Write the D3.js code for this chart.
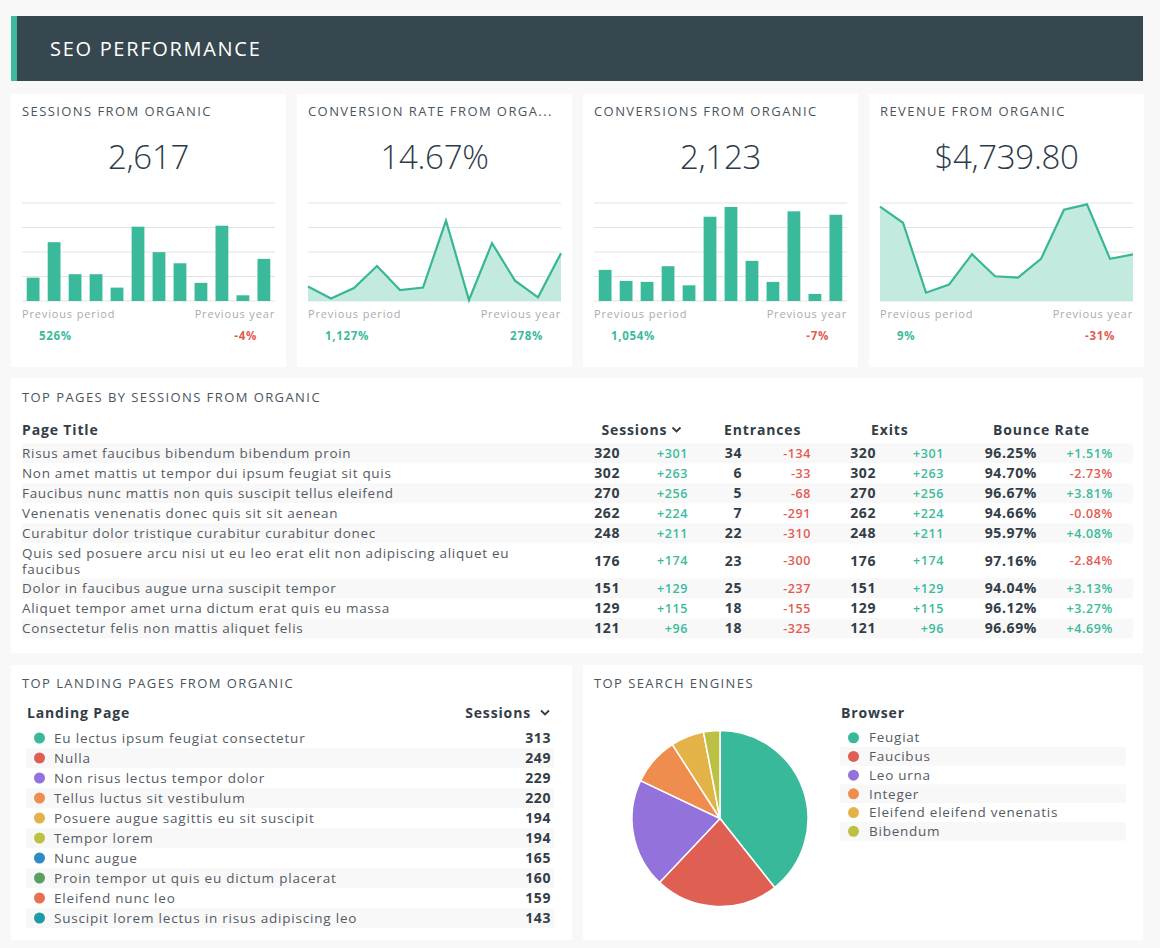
<!DOCTYPE html>
<html>
<head>
<meta charset="utf-8">
<script src="https://cdn.jsdelivr.net/npm/d3@7"></script>
<style>
  html, body { margin: 0; padding: 0; background: #f8f8f8; }
  svg { display: block; font-family: "Open Sans", sans-serif; }
</style>
</head>
<body>
<svg id="chart" width="1160" height="948"></svg>
<script>
// ---------------- DATA ----------------
const dashboardTitle = "SEO PERFORMANCE";

const kpiTitles = ["SESSIONS FROM ORGANIC", "CONVERSION RATE FROM ORGA...", "CONVERSIONS FROM ORGANIC", "REVENUE FROM ORGANIC"];
const kpiValues = ["2,617", "14.67%", "2,123", "$4,739.80"];
const kpiTypes = ["bar", "area", "bar", "area"];
const kpiDomainMax = [600, 40, 400, 800];
const sessionsSeries = [143, 360, 164, 164, 82, 455, 299, 231, 111, 461, 35, 258];
const convRateSeries = [5.9, 1.0, 5.3, 14.3, 4.5, 5.5, 32.8, 0.4, 23.6, 8.3, 1.5, 19.5];
const conversionsSeries = [127, 82, 78, 142, 64, 344, 384, 164, 78, 366, 29, 352];
const revenueSeries = [770, 639, 68, 134, 382, 202, 191, 344, 745, 789, 344, 380];
const kpiSeries = [sessionsSeries, convRateSeries, conversionsSeries, revenueSeries];
const prevPeriodLabels = ["526%", "1,127%", "1,054%", "9%"];
const prevPeriodPositive = [true, true, true, true];
const prevYearLabels = ["-4%", "278%", "-7%", "-31%"];
const prevYearPositive = [false, true, false, false];

const pageTitles = [
  "Risus amet faucibus bibendum bibendum proin",
  "Non amet mattis ut tempor dui ipsum feugiat sit quis",
  "Faucibus nunc mattis non quis suscipit tellus eleifend",
  "Venenatis venenatis donec quis sit sit aenean",
  "Curabitur dolor tristique curabitur curabitur donec",
  "Quis sed posuere arcu nisi ut eu leo erat elit non adipiscing aliquet eu faucibus",
  "Dolor in faucibus augue urna suscipit tempor",
  "Aliquet tempor amet urna dictum erat quis eu massa",
  "Consectetur felis non mattis aliquet felis"
];
const pageSessions = [320, 302, 270, 262, 248, 176, 151, 129, 121];
const pageSessionsChg = [301, 263, 256, 224, 211, 174, 129, 115, 96];
const pageEntrances = [34, 6, 5, 7, 22, 23, 25, 18, 18];
const pageEntrancesChg = [-134, -33, -68, -291, -310, -300, -237, -155, -325];
const pageExits = [320, 302, 270, 262, 248, 176, 151, 129, 121];
const pageExitsChg = [301, 263, 256, 224, 211, 174, 129, 115, 96];
const pageBounce = [96.25, 94.70, 96.67, 94.66, 95.97, 97.16, 94.04, 96.12, 96.69];
const pageBounceChg = [1.51, -2.73, 3.81, -0.08, 4.08, -2.84, 3.13, 3.27, 4.69];
const pageColumns = ["Page Title", "Sessions", "Entrances", "Exits", "Bounce Rate"];

const landingPages = [
  "Eu lectus ipsum feugiat consectetur", "Nulla", "Non risus lectus tempor dolor",
  "Tellus luctus sit vestibulum", "Posuere augue sagittis eu sit suscipit", "Tempor lorem",
  "Nunc augue", "Proin tempor ut quis eu dictum placerat", "Eleifend nunc leo",
  "Suscipit lorem lectus in risus adipiscing leo"
];
const landingSessions = [313, 249, 229, 220, 194, 194, 165, 160, 159, 143];
const landingColors = ["#37b99a", "#e05f53", "#9372dc", "#ee8d4e", "#e4b348", "#bcc143", "#2f8bc8", "#5a9e62", "#e8704f", "#1d9aa8"];

const engineNames = ["Feugiat", "Faucibus", "Leo urna", "Integer", "Eleifend eleifend venenatis", "Bibendum"];
const engineValues = [393, 227, 200, 88, 61, 30];
const engineColors = ["#37b99a", "#e05f53", "#9372dc", "#ee8d4e", "#e4b348", "#bcc143"];

// ---------------- STYLE ----------------
const GREEN = "#3bbb9c", RED = "#e35b52", DARK = "#333d47", TXT = "#4a5058", TITLE = "#4b5560", ROWTXT = "#555b64";
const svg = d3.select("#chart");

function card(x, y, w, h) {
  svg.append("rect").attr("x", x).attr("y", y).attr("width", w).attr("height", h).attr("fill", "#ffffff");
}
function text(g, x, y, s, opt = {}) {
  return g.append("text").attr("x", x).attr("y", y).attr("dy", "0.35em")
    .attr("font-size", opt.size || 13).attr("font-weight", opt.weight || 400)
    .attr("fill", opt.fill || TXT).attr("text-anchor", opt.anchor || "start")
    .attr("letter-spacing", opt.ls || 0).text(s);
}
function chevron(g, x, y) {
  g.append("path").attr("d", `M${x},${y - 2.5} L${x + 4},${y + 1.5} L${x + 8},${y - 2.5}`)
    .attr("fill", "none").attr("stroke", DARK).attr("stroke-width", 1.8);
}
const titleOpt = { size: 13, fill: TITLE, ls: 1.42 };
const headOpt = { size: 14, weight: 700, fill: DARK, ls: 0.85 };

// ---------------- HEADER ----------------
svg.append("rect").attr("x", 11).attr("y", 16).attr("width", 1132).attr("height", 65).attr("fill", "#36474f");
svg.append("rect").attr("x", 11).attr("y", 16).attr("width", 6).attr("height", 65).attr("fill", GREEN);
text(svg, 50, 48.5, dashboardTitle, { size: 20, fill: "#ffffff", ls: 1.7 });

// ---------------- KPI CARDS ----------------
const cardX = [11, 297, 583, 869];
kpiTitles.forEach((t, i) => {
  const x0 = cardX[i];
  card(x0, 94, 275, 273);
  const g = svg.append("g");
  text(g, x0 + 11, 111.5, t, titleOpt);
  text(g, x0 + 137.5, 157, kpiValues[i], { size: 33, weight: 300, fill: "#2d3b4a", anchor: "middle", ls: -0.3 });

  const y = d3.scaleLinear().domain([0, kpiDomainMax[i]]).range([301, 203]);
  const ticks = d3.range(0, 5).map(k => kpiDomainMax[i] * k / 4);
  g.selectAll(".grid").data(ticks).join("line")
    .attr("x1", x0 + 11).attr("x2", x0 + 264)
    .attr("y1", d => y(d)).attr("y2", d => y(d))
    .attr("stroke", "#e3e3e3").attr("stroke-width", 1);

  const data = kpiSeries[i];
  if (kpiTypes[i] === "bar") {
    const xb = d3.scaleBand().domain(d3.range(data.length)).range([x0 + 11, x0 + 264])
      .paddingInner(0.39).paddingOuter(0.225);
    g.selectAll(".bar").data(data).join("rect")
      .attr("x", (d, k) => xb(k)).attr("width", xb.bandwidth())
      .attr("y", d => y(d)).attr("height", d => y(0) - y(d))
      .attr("fill", "#3aba9b");
  } else {
    const xp = d3.scalePoint().domain(d3.range(data.length)).range([x0 + 11, x0 + 264]);
    const area = d3.area().x((d, k) => xp(k)).y0(y(0)).y1(d => y(d));
    const line = d3.line().x((d, k) => xp(k)).y(d => y(d));
    g.append("path").datum(data).attr("d", area).attr("fill", "#c3eadf");
    g.append("path").datum(data).attr("d", line).attr("fill", "none")
      .attr("stroke", "#38b797").attr("stroke-width", 2.2).attr("stroke-linejoin", "miter");
  }
  text(g, x0 + 11, 314, "Previous period", { size: 11, fill: "#a8abb0", ls: 0.85 });
  text(g, x0 + 264, 314, "Previous year", { size: 11, fill: "#a8abb0", ls: 0.85, anchor: "end" });
  text(g, x0 + 28, 335.5, prevPeriodLabels[i], { size: 11.5, weight: 700, fill: prevPeriodPositive[i] ? GREEN : RED, ls: 0.7 });
  text(g, x0 + 246, 335.5, prevYearLabels[i], { size: 11.5, weight: 700, fill: prevYearPositive[i] ? GREEN : RED, ls: 0.7, anchor: "end" });
});

// ---------------- TOP PAGES TABLE ----------------
card(11, 378, 1132, 275);
const tg = svg.append("g");
text(tg, 22, 397.5, "TOP PAGES BY SESSIONS FROM ORGANIC", titleOpt);
const headerX = [22, 601.5, 724, 871, 993];
pageColumns.forEach((c, k) => text(tg, headerX[k], 430, c, headOpt));
chevron(tg, 672.5, 430);

const rowOpt = { size: 13.5, fill: ROWTXT, ls: 0.7 };
const maxTitleW = 510;
const lineH = 16;
let rowTop = 443.3;
const fmtSigned = d => (d > 0 ? "+" : "") + d;
const fmtPct = d => d.toFixed(2) + "%";
const fmtSignedPct = d => (d > 0 ? "+" : "") + d.toFixed(2) + "%";
pageTitles.forEach((title, r) => {
  const words = title.split(" ");
  const tmp = text(tg, -1000, -1000, "", rowOpt);
  const lines = [];
  let cur = [];
  words.forEach(w => {
    cur.push(w);
    tmp.text(cur.join(" "));
    if (tmp.node().getComputedTextLength() > maxTitleW && cur.length > 1) {
      cur.pop(); lines.push(cur.join(" ")); cur = [w];
    }
  });
  lines.push(cur.join(" "));
  tmp.remove();
  const h = 20 + (lines.length - 1) * 15;
  if (r % 2 === 0) {
    tg.append("rect").attr("x", 22).attr("y", rowTop).attr("width", 1111).attr("height", h).attr("fill", "#f8f8f8");
  }
  const cy = rowTop + h / 2;
  lines.forEach((ln, li) => {
    text(tg, 22, cy + (li - (lines.length - 1) / 2) * lineH, ln, rowOpt);
  });
  const numOpt = { size: 14, weight: 700, fill: DARK, anchor: "end", ls: 0.6 };
  const chgOpt = v => ({ size: 12.5, weight: 600, fill: v >= 0 ? GREEN : RED, anchor: "end", ls: 0.6 });
  text(tg, 620, cy, pageSessions[r], numOpt);
  text(tg, 688, cy, fmtSigned(pageSessionsChg[r]), chgOpt(pageSessionsChg[r]));
  text(tg, 742, cy, pageEntrances[r], numOpt);
  text(tg, 811, cy, fmtSigned(pageEntrancesChg[r]), chgOpt(pageEntrancesChg[r]));
  text(tg, 876, cy, pageExits[r], numOpt);
  text(tg, 944, cy, fmtSigned(pageExitsChg[r]), chgOpt(pageExitsChg[r]));
  text(tg, 1037, cy, fmtPct(pageBounce[r]), numOpt);
  text(tg, 1113, cy, fmtSignedPct(pageBounceChg[r]), chgOpt(pageBounceChg[r]));
  rowTop += h;
});

// ---------------- LANDING PAGES ----------------
card(11, 665, 561, 275);
const lg = svg.append("g");
text(lg, 22, 683.5, "TOP LANDING PAGES FROM ORGANIC", titleOpt);
text(lg, 27, 713, "Landing Page", headOpt);
text(lg, 531, 713, "Sessions", Object.assign({}, headOpt, { anchor: "end" }));
chevron(lg, 541, 713);
const listOpt = { size: 13.5, fill: ROWTXT, ls: 0.8 };
const ly = d3.scaleBand().domain(d3.range(landingPages.length)).range([728, 928]);
landingPages.forEach((p, k) => {
  if (k % 2 === 1) lg.append("rect").attr("x", 26).attr("y", ly(k)).attr("width", 528).attr("height", ly.bandwidth()).attr("fill", "#f8f8f8");
  const cy = ly(k) + ly.bandwidth() / 2;
  lg.append("circle").attr("cx", 39.5).attr("cy", cy).attr("r", 5.5).attr("fill", landingColors[k]);
  text(lg, 54, cy, p, listOpt);
  text(lg, 551, cy, landingSessions[k], { size: 14, weight: 700, fill: DARK, ls: 0.6, anchor: "end" });
});

// ---------------- SEARCH ENGINES PIE ----------------
card(583, 665, 560, 275);
const pg = svg.append("g");
text(pg, 594, 683.5, "TOP SEARCH ENGINES", titleOpt);
const pie = d3.pie().sort(null).value(d => d)(engineValues);
const arc = d3.arc().innerRadius(0).outerRadius(88);
pg.append("g").attr("transform", "translate(720,818.5)")
  .selectAll("path").data(pie).join("path")
  .attr("d", arc).attr("fill", (d, k) => engineColors[k])
  .attr("stroke", "#ffffff").attr("stroke-width", 1.5);

text(pg, 841, 713, "Browser", headOpt);
const ey = d3.scaleBand().domain(d3.range(engineNames.length)).range([728.4, 840.6]);
engineNames.forEach((n, k) => {
  if (k % 2 === 1) pg.append("rect").attr("x", 840).attr("y", ey(k)).attr("width", 286).attr("height", ey.bandwidth()).attr("fill", "#f8f8f8");
  const cy = ey(k) + ey.bandwidth() / 2;
  pg.append("circle").attr("cx", 853.5).attr("cy", cy).attr("r", 5.5).attr("fill", engineColors[k]);
  text(pg, 869, cy, n, { size: 13.5, fill: ROWTXT, ls: 0.75 });
});
</script>
</body>
</html>
